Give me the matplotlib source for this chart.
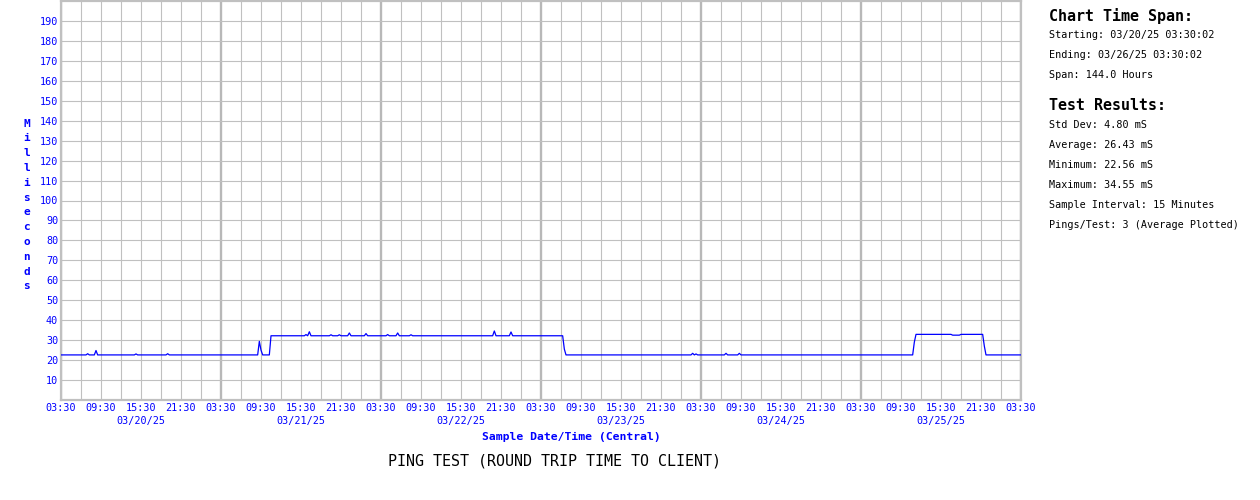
import numpy as np
import matplotlib
matplotlib.use('Agg')
import matplotlib.pyplot as plt

# hours since 03/20/25 03:30 and averaged ping (ms), vertices
time_h = [0, 3.75, 4.0, 4.25, 5.0, 5.25, 5.5, 11.0, 11.25, 11.5, 15.75, 16.0, 16.25,
          29.5, 29.75, 30.0, 30.25, 31.25, 31.5,
          36.5, 36.75, 37.0, 37.25, 37.5, 40.25, 40.5, 40.75, 41.5, 41.75, 42.0,
          43.0, 43.25, 43.5, 45.5, 45.75, 46.0, 48.75, 49.0, 49.25, 50.25, 50.5, 50.75,
          52.25, 52.5, 52.75, 64.75, 65.0, 65.25, 67.25, 67.5, 67.75, 75.25, 75.5, 75.75,
          94.5, 94.75, 95.0, 95.25, 95.5, 99.5, 99.75, 100.0, 101.5, 101.75, 102.0,
          127.75, 128.0, 128.25, 133.5, 133.75, 134.75, 135.0, 138.25, 138.5, 138.75, 144]
rtt_ms = [22.6, 22.6, 23.2, 22.6, 22.6, 24.8, 22.6, 22.6, 23.1, 22.6, 22.6, 23.2, 22.6,
          22.6, 29.4, 25.0, 22.6, 22.6, 32.2,
          32.2, 32.8, 32.2, 34.2, 32.2, 32.2, 32.7, 32.2, 32.2, 32.7, 32.2,
          32.2, 33.6, 32.2, 32.2, 33.3, 32.2, 32.2, 32.8, 32.2, 32.2, 33.6, 32.2,
          32.2, 32.7, 32.2, 32.2, 34.6, 32.2, 32.2, 34.1, 32.2, 32.2, 25.5, 22.6,
          22.6, 23.4, 22.6, 23.1, 22.6, 22.6, 23.4, 22.6, 22.6, 23.4, 22.6,
          22.6, 29.0, 32.9, 32.9, 32.5, 32.5, 32.9, 32.9, 27.0, 22.6, 22.6]

tick_labels = ['03:30', '09:30', '15:30', '21:30'] * 6 + ['03:30']
day_labels = ['03/20/25', '03/21/25', '03/22/25', '03/23/25', '03/24/25', '03/25/25']

info_span = ['Starting: 03/20/25 03:30:02', 'Ending: 03/26/25 03:30:02', 'Span: 144.0 Hours']
info_results = ['Std Dev: 4.80 mS', 'Average: 26.43 mS', 'Minimum: 22.56 mS',
                'Maximum: 34.55 mS', 'Sample Interval: 15 Minutes',
                'Pings/Test: 3 (Average Plotted)']

W, H = 1260, 500
blue = '#0000FF'
grey = '#C0C0C0'
plt.rcParams['font.family'] = 'DejaVu Sans Mono'

fig = plt.figure(figsize=(W / 100, H / 100), dpi=100)
ax = fig.add_axes([61 / W, 1 - 400 / H, 960 / W, 399 / H])

# grid: every 3 h / 10 ms, heavier at day boundaries
for h in range(0, 145, 3):
    lw = 1.7 if h % 24 == 0 else 0.8
    c = '#B8B8B8' if h % 24 == 0 else grey
    ax.axvline(h, color=c, lw=lw, zorder=1)
for v in range(10, 200, 10):
    ax.axhline(v, color=grey, lw=0.8, zorder=1)

ax.plot(time_h, rtt_ms, color=blue, lw=0.9, zorder=3)

ax.set_xlim(0, 144)
ax.set_ylim(0, 200)
for s in ax.spines.values():
    s.set_color(grey)
    s.set_linewidth(1.6)

ax.set_xticks(range(0, 145, 6))
ax.set_xticklabels(tick_labels, color=blue, fontsize=7.3)
ax.set_yticks(range(10, 200, 10))
ax.set_yticklabels([str(v) for v in range(10, 200, 10)], color=blue, fontsize=7.3)
ax.tick_params(length=0, pad=2)

xt = ax.get_xaxis_transform()
for i, d in enumerate(day_labels):
    ax.text(12 + 24 * i, -0.053, d, transform=xt, color=blue, fontsize=7.3,
            ha='center', va='center')

ax.text(76.5, -0.093, 'Sample Date/Time (Central)', transform=xt, color=blue,
        fontsize=8.2, fontweight='bold', ha='center', va='center')

fig.text(27 / W, 1 - 205 / H, '\n'.join('Milliseconds'), color=blue, fontsize=8,
         fontweight='bold', ha='center', va='center', linespacing=1.6)

fig.text(555 / W, 1 - 461 / H, 'PING TEST (ROUND TRIP TIME TO CLIENT)', color='black',
         fontsize=10.8, ha='center', va='center')

# side panel
fig.text(1049 / W, 1 - 16 / H, 'Chart Time Span:', fontsize=10.8, fontweight='bold',
         va='center')
for i, t in enumerate(info_span):
    fig.text(1049 / W, 1 - (35 + 20 * i) / H, t, fontsize=7.3, va='center')
fig.text(1049 / W, 1 - 105 / H, 'Test Results:', fontsize=10.8, fontweight='bold',
         va='center')
for i, t in enumerate(info_results):
    fig.text(1049 / W, 1 - (125 + 20 * i) / H, t, fontsize=7.3, va='center')

fig.savefig('out.png', dpi=100, facecolor='white')
